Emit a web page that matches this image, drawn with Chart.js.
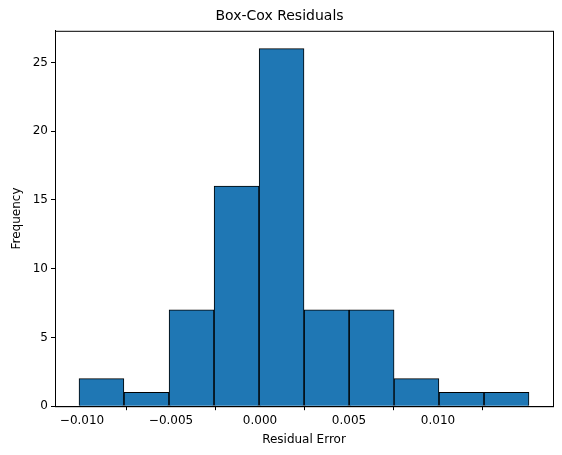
<!DOCTYPE html>
<html><head><meta charset="utf-8">
<script src="https://cdn.jsdelivr.net/npm/chart.js"></script>
<style>body{margin:0;background:#fff}#w{width:562px;height:455px}</style>
</head><body><div id="w"><canvas id="c"></canvas></div>
<script>
const binCenters = [-0.00891, -0.00638, -0.00385, -0.00132, 0.00121, 0.00374, 0.00627, 0.00879, 0.01132, 0.01385];
const counts = [2, 1, 7, 16, 26, 7, 7, 2, 1, 1];
const xTicks = [-0.010, -0.005, 0.000, 0.005, 0.010];
const yTicks = [0, 5, 10, 15, 20, 25];

const font = { family: 'DejaVu Sans', size: 12 };
Chart.defaults.color = '#000';

const frame = {
  id: 'frame',
  afterDraw(ch) {
    const a = ch.chartArea, c = ch.ctx;
    c.save(); c.strokeStyle = '#000'; c.lineWidth = 1;
    c.strokeRect(a.left + 0.5, a.top + 0.5, a.right - a.left, a.bottom - a.top);
    c.restore();
  }
};

new Chart(document.getElementById('c'), {
  type: 'bar',
  data: {
    datasets: [{
      data: binCenters.map((x, i) => ({ x, y: counts[i] })),
      backgroundColor: '#1f77b4',
      borderColor: '#000',
      borderWidth: 1,
      barPercentage: 1,
      categoryPercentage: 1
    }]
  },
  options: {
    responsive: true, maintainAspectRatio: false, animation: false,
    layout: { padding: { top: 0, right: 9, bottom: 4, left: 6 } },
    plugins: {
      legend: { display: false }, tooltip: { enabled: false },
      title: { display: true, text: 'Box-Cox Residuals', font: { family: 'DejaVu Sans', size: 14, weight: 'normal' }, padding: { top: 8, bottom: 6 } }
    },
    scales: {
      x: {
        type: 'linear', min: -0.01152, max: 0.01646, offset: false,
        afterBuildTicks: s => { s.ticks = xTicks.map(v => ({ value: v })); },
        ticks: { font, maxRotation: 0, callback: v => (v < 0 ? '\u2212' : '') + Math.abs(v).toFixed(3) },
        grid: { drawOnChartArea: false, tickLength: 4, color: '#000' },
        border: { color: '#000' },
        title: { display: true, text: 'Residual Error', font, padding: { top: 2 } }
      },
      y: {
        min: 0, max: 27.3,
        afterBuildTicks: s => { s.ticks = yTicks.map(v => ({ value: v })); },
        afterFit: s => { s.width = 49; },
        ticks: { font },
        grid: { drawOnChartArea: false, tickLength: 4, color: '#000' },
        border: { color: '#000' },
        title: { display: true, text: 'Frequency', font }
      }
    }
  },
  plugins: [frame]
});
</script></body></html>
